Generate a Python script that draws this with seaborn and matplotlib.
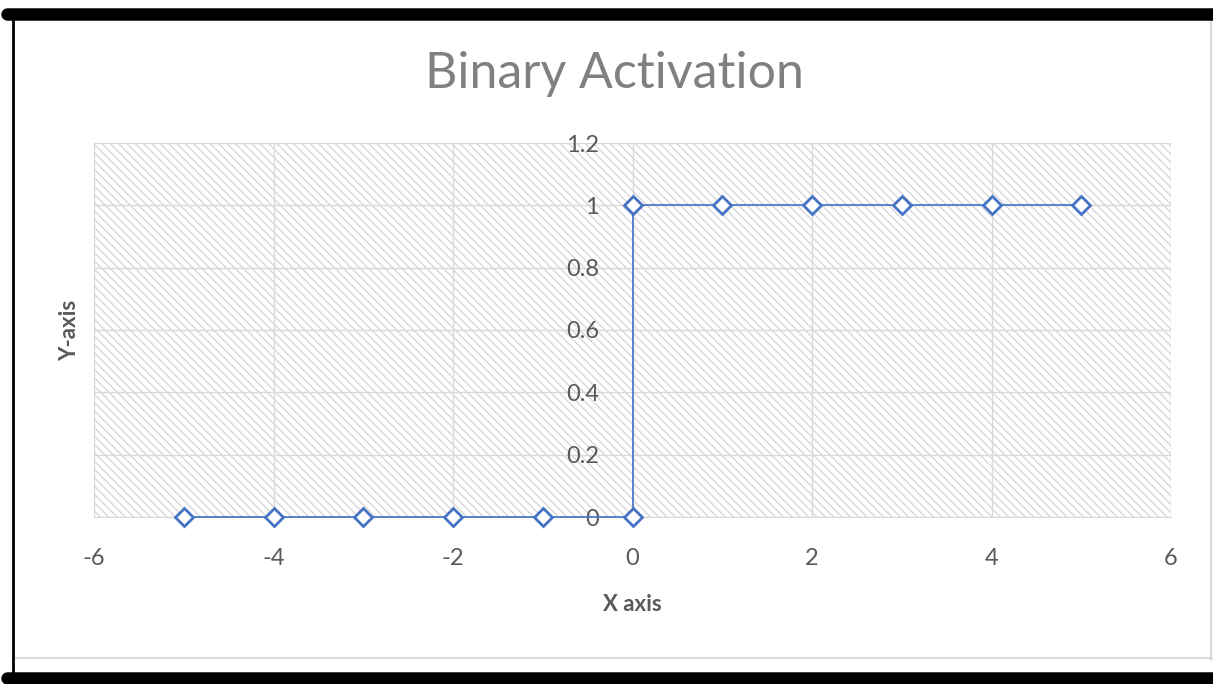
import numpy as np
import pandas as pd
import matplotlib
matplotlib.use("Agg")
import matplotlib.pyplot as plt
from matplotlib.patches import Rectangle
from matplotlib.lines import Line2D
import seaborn as sns

# binary step: two points at x=0 make the jump
x_vals = [-5, -4, -3, -2, -1, 0, 0, 1, 2, 3, 4, 5]
y_vals = [0, 0, 0, 0, 0, 0, 1, 1, 1, 1, 1, 1]
x_ticks = [-6, -4, -2, 0, 2, 4, 6]
y_ticks = [0, 0.2, 0.4, 0.6, 0.8, 1, 1.2]
y_labels = ["0", "0.2", "0.4", "0.6", "0.8", "1", "1.2"]

df = pd.DataFrame({"x": x_vals, "y": y_vals})

sns.set_style("white")
plt.rcParams["font.family"] = ["Lato", "DejaVu Sans"]
plt.rcParams["axes.unicode_minus"] = False
plt.rcParams["hatch.linewidth"] = 0.9
plt.rcParams["hatch.color"] = "#d4d4d4"

blue = "#4472C4"
txt = "#595959"

fig = plt.figure(figsize=(12.13, 6.84), dpi=100)
ax = fig.add_axes([94 / 1213, 1 - 517 / 684, (1171 - 94) / 1213, (517 - 143) / 684])

# hatched plot area
ax.add_patch(Rectangle((0, 0), 1, 1, transform=ax.transAxes, facecolor="white",
                       edgecolor="#d4d4d4", hatch="\\\\\\\\", linewidth=0, zorder=0))

sns.lineplot(data=df, x="x", y="y", sort=False, estimator=None, ax=ax,
             color=blue, linewidth=1.2, marker="D", markersize=9,
             markerfacecolor="white", markeredgecolor=blue, markeredgewidth=2,
             zorder=5, clip_on=False)

ax.set_xlim(-6, 6)
ax.set_ylim(0, 1.2)
ax.set_xticks(x_ticks)
ax.set_yticks(y_ticks)
ax.set_yticklabels(y_labels)
ax.grid(True, color="#d9d9d9", linewidth=1)
ax.set_axisbelow(True)

for s in ["top", "right"]:
    ax.spines[s].set_visible(False)
ax.spines["left"].set_position(("data", 0))
ax.spines["left"].set_visible(False)
ax.spines["bottom"].set_color("#d9d9d9")

ax.tick_params(axis="both", length=0, labelsize=17, labelcolor=txt)
ax.tick_params(axis="y", pad=24)
ax.tick_params(axis="x", pad=22)

ax.set_xlabel("X axis", fontsize=16, fontweight="bold", color=txt, labelpad=18)
ax.set_ylabel("")
fig.text(70 / 1213, 1 - 330 / 684, "Y-axis", rotation=90, fontsize=16,
         fontweight="bold", color=txt, ha="center", va="center")

fig.text(614 / 1213, 1 - 74 / 684, "Binary Activation", fontsize=36,
         color="#808080", ha="center", va="center")

# frame lines around the chart
fig.add_artist(Line2D([1 - 2 / 1213, 1 - 2 / 1213], [1 - 20 / 684, 1 - 660 / 684],
                      color="#d9d9d9", linewidth=1.5))
fig.add_artist(Line2D([14 / 1213, 1], [1 - 658 / 684, 1 - 658 / 684],
                      color="#d9d9d9", linewidth=1.5))
fig.add_artist(Line2D([13 / 1213, 13 / 1213], [1 - 14 / 684, 1 - 676 / 684],
                      color="black", linewidth=2))
fig.add_artist(Line2D([7 / 1213, 1.01], [1 - 14 / 684, 1 - 14 / 684],
                      color="black", linewidth=9, solid_capstyle="round"))
fig.add_artist(Line2D([7 / 1213, 1.01], [1 - 678 / 684, 1 - 678 / 684],
                      color="black", linewidth=9, solid_capstyle="round"))

fig.savefig("out.png", dpi=100)
